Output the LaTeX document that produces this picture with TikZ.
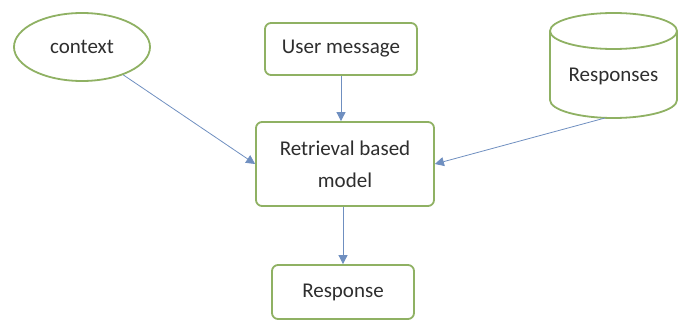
\documentclass[tikz,border=0pt]{standalone}
\usepackage{fontspec}
\setmainfont{Carlito}
\usetikzlibrary{shapes.geometric,arrows.meta}
\definecolor{boxgreen}{HTML}{8FB163}
\definecolor{linkblue}{HTML}{6F8FC0}
\definecolor{txt}{HTML}{2E2E2E}
\tikzset{
  every node/.style={font=\fontsize{21}{32}\selectfont, text=txt},
  stepbox/.style={draw=boxgreen, line width=1.8pt, rounded corners=6pt, fill=white, align=center},
  link/.style={draw=linkblue, line width=0.8pt, -{Triangle[length=9pt,width=9pt]}},
}
\begin{document}
\begin{tikzpicture}[x=1pt,y=-1pt]
\useasboundingbox (0,0) rectangle (679,323);
% inputs
\node[ellipse, draw=boxgreen, line width=1.8pt, minimum width=136pt, minimum height=68pt] (ctx) at (82,47) {context};
\node[stepbox, minimum width=152pt, minimum height=52pt] (user) at (341,49) {User message};
% response store drawn as a cylinder
\draw[boxgreen, line width=1.8pt, fill=white]
  (550,31) -- (550,100) arc[start angle=180, end angle=360, x radius=63.5pt, y radius=18pt]
  -- (677,31);
\draw[boxgreen, line width=1.8pt] (613.5,31) ellipse[x radius=63.5pt, y radius=18pt];
\node (resp) at (613.5,76) {Responses};
\coordinate (respbase) at (605,118);
% model and output
\node[stepbox, minimum width=178pt, minimum height=84pt] (model) at (345,164) {Retrieval based\\model};
\node[stepbox, minimum width=142pt, minimum height=54pt] (out) at (343,292) {Response};
% connectors
\draw[link] (ctx) -- (model.west);
\draw[link] (user) -- (user.south |- model.north);
\draw[link] (respbase) -- (model.east);
\draw[link] (out.north |- model.south) -- (out);
\end{tikzpicture}
\end{document}
